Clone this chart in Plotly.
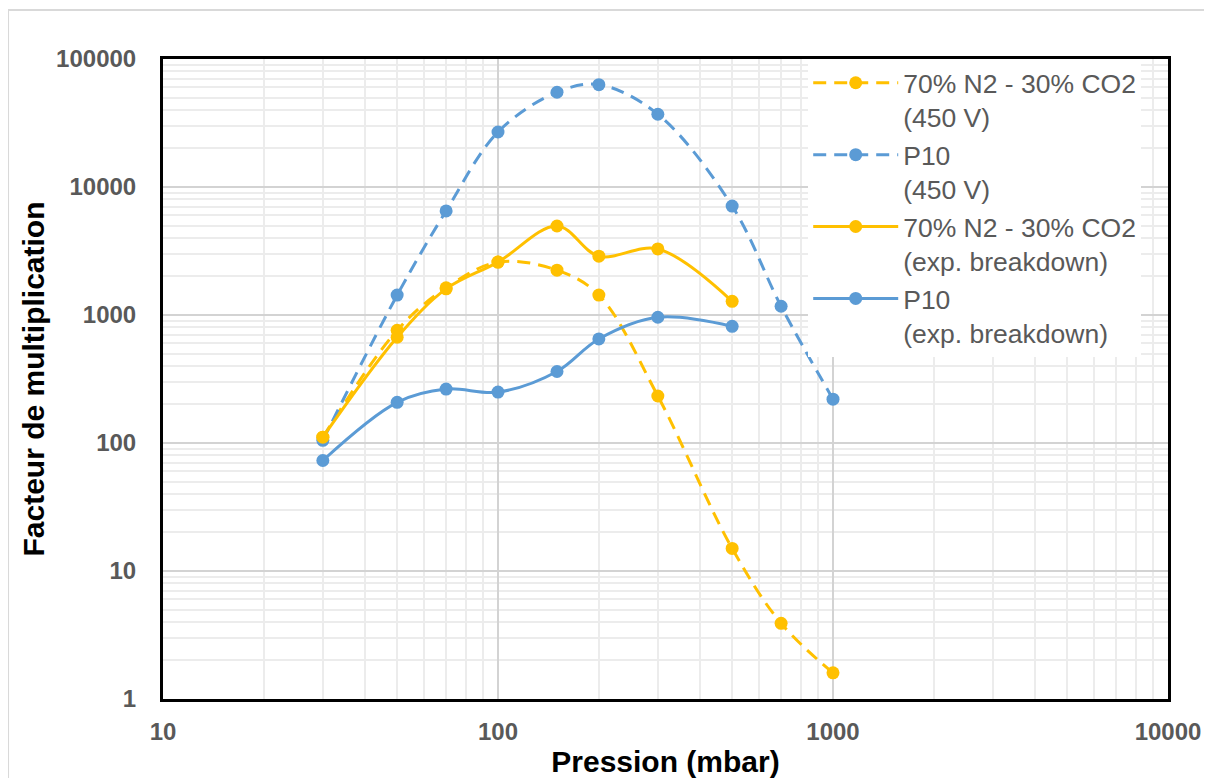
import plotly.graph_objects as go

pressure = [30, 50, 70, 100, 150, 200, 300, 500, 700, 1000]
n2co2_450v = [111, 760, 1630, 2590, 2240, 1430, 233, 15, 3.9, 1.6]
p10_450v = [105, 1430, 6500, 26900, 55000, 63000, 37000, 7100, 1170, 220]

pressure_bd = [30, 50, 70, 100, 150, 200, 300, 500]
n2co2_bd = [111, 670, 1600, 2590, 4960, 2880, 3280, 1280]
p10_bd = [73, 208, 264, 250, 362, 650, 960, 815]

names = ["70% N2 - 30% CO2<br>(450 V)", "P10<br>(450 V)",
         "70% N2 - 30% CO2<br>(exp. breakdown)", "P10<br>(exp. breakdown)"]

x_ticks = [10, 100, 1000, 10000]
x_tick_text = ["10", "100", "1000", "10000"]
y_ticks = [1, 10, 100, 1000, 10000, 100000]
y_tick_text = ["1", "10", "100", "1000", "10000", "100000"]

ORANGE = "#FFC000"
BLUE = "#5B9BD5"
FONT = "Liberation Sans"

fig = go.Figure()
series = [
    (pressure, n2co2_450v, names[0], ORANGE, "13px,8px"),
    (pressure, p10_450v, names[1], BLUE, "13px,8px"),
    (pressure_bd, n2co2_bd, names[2], ORANGE, "solid"),
    (pressure_bd, p10_bd, names[3], BLUE, "solid"),
]
for x, y, n, c, d in series:
    fig.add_trace(go.Scatter(
        x=x, y=y, name=n, mode="lines+markers",
        line=dict(color=c, width=3, dash=d, shape="spline", smoothing=1),
        marker=dict(color=c, size=13),
    ))

axis_common = dict(
    type="log", automargin=False,
    showline=True, linecolor="black", linewidth=3, mirror=True,
    showgrid=True, gridcolor="#d3d3d3", gridwidth=1.5,
    ticks="", zeroline=False,
    tickfont=dict(family=FONT, size=24, color="#595959", weight="bold"),
    minor=dict(showgrid=True, gridcolor="#ececec", gridwidth=1.5, dtick="D1"),
)

fig.update_xaxes(**axis_common, range=[1, 4], ticklabelstandoff=9,
                 tickvals=x_ticks, ticktext=x_tick_text,
                 title=dict(text="Pression (mbar)", standoff=9,
                            font=dict(family=FONT, size=30, color="black", weight="bold")))
fig.update_yaxes(**axis_common, range=[0, 5], ticklabelstandoff=19,
                 tickvals=y_ticks, ticktext=y_tick_text,
                 title=dict(text="Facteur de multiplication", standoff=3,
                            font=dict(family=FONT, size=30, color="black", weight="bold")))

fig.update_layout(
    width=1204, height=770,
    margin=dict(l=155, r=44, t=51, b=79),
    plot_bgcolor="white", paper_bgcolor="white",
    font=dict(family=FONT),
    showlegend=True,
    legend=dict(x=0.642, y=1.0, xanchor="left", yanchor="top",
                bgcolor="white", font=dict(family=FONT, size=26.5, color="#595959"),
                itemwidth=85, tracegroupgap=0, valign="top"),
    shapes=[dict(type="rect", xref="paper", yref="paper",
                 x0=-0.1542, x1=1.2, y0=-0.3, y1=1.0766,
                 line=dict(color="#d9d9d9", width=2), layer="below")],
)

fig.write_html("out.html")
